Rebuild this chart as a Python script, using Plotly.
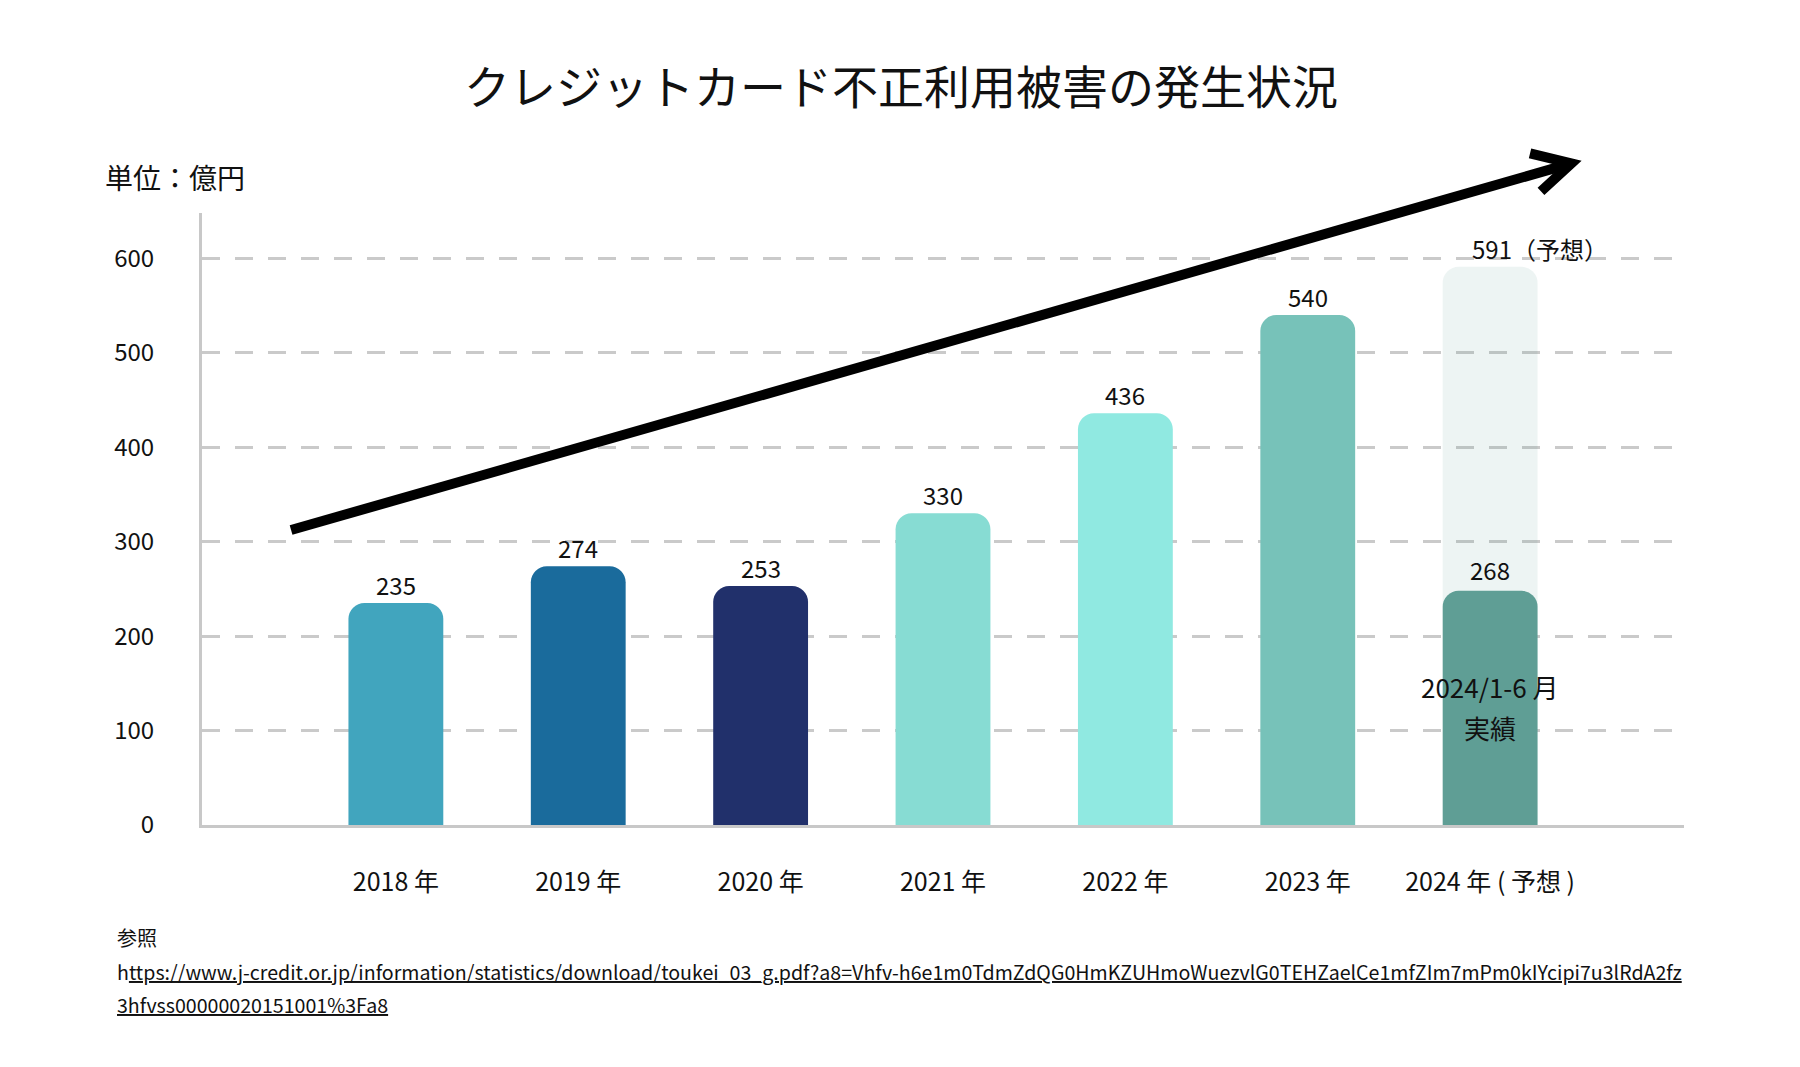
import plotly.graph_objects as go

# ---- data ----
years = ["2018 年", "2019 年", "2020 年", "2021 年", "2022 年", "2023 年", "2024 年 ( 予想 )"]
annual_values = [235, 274, 253, 330, 436, 540]          # 2018-2023 actual
forecast_2024 = 591                                      # 2024 forecast
h1_2024_label = 268                                      # 2024 Jan-Jun label
h1_2024_bar = 248                                        # 2024 Jan-Jun bar height as drawn
bar_colors = ["#41a5be", "#1a6b9c", "#21306b", "#87dcd3", "#90e9e1", "#77c2b9"]
color_2024 = "#5f9e95"
y_ticks = [0, 100, 200, 300, 400, 500, 600]

FONT = "Noto Sans CJK JP"
x_pos = list(range(len(years)))
X_RANGE = [-1.063, 7.063]

fig = go.Figure()

# light forecast bar (2024)
fig.add_trace(go.Bar(
    x=[x_pos[6]], y=[forecast_2024], width=0.52,
    marker=dict(color="rgba(95,158,149,0.11)", line=dict(width=0), cornerradius=16),
    hoverinfo="skip", showlegend=False,
))
# actual bars 2018-2023
fig.add_trace(go.Bar(
    x=x_pos[:6], y=annual_values, width=0.52,
    marker=dict(color=bar_colors, line=dict(width=0), cornerradius=16),
    showlegend=False,
))
# 2024 H1 actual (on an overlaid x axis so its corners are rounded too)
fig.add_trace(go.Bar(
    x=[x_pos[6]], y=[h1_2024_bar], width=0.52, xaxis="x2",
    marker=dict(color=color_2024, line=dict(width=0), cornerradius=16),
    showlegend=False,
))

LBL = 24
annotations = []
for xi, v in zip(x_pos[:6], annual_values):
    annotations.append(dict(x=xi, y=v, xref="x", yref="y", text=str(v), showarrow=False,
                            yanchor="middle", yshift=19, font=dict(family=FONT, size=LBL, color="#111")))
annotations.append(dict(x=x_pos[6], y=forecast_2024, xref="x", yref="y",
                        text=f"{forecast_2024}（予想）", showarrow=False, xanchor="left",
                        xshift=-20, yanchor="middle", yshift=18,
                        font=dict(family=FONT, size=LBL, color="#111")))
annotations.append(dict(x=x_pos[6], y=h1_2024_bar, xref="x", yref="y", text=str(h1_2024_label),
                        showarrow=False, yanchor="middle", yshift=21,
                        font=dict(family=FONT, size=LBL, color="#111")))
annotations.append(dict(x=x_pos[6], y=147, xref="x", yref="y", text="2024/1-6 月",
                        showarrow=False, yanchor="middle",
                        font=dict(family=FONT, size=26, color="#111")))
annotations.append(dict(x=x_pos[6], y=103, xref="x", yref="y", text="実績",
                        showarrow=False, yanchor="middle",
                        font=dict(family=FONT, size=26, color="#111")))
# unit label
annotations.append(dict(x=-0.0668, y=1.0588, xref="paper", yref="paper", text="単位：億円",
                        showarrow=False, xanchor="left", yanchor="middle",
                        font=dict(family=FONT, size=28, color="#111")))
# footer
annotations.append(dict(x=-0.0587, y=-0.1846, xref="paper", yref="paper", text="参照",
                        showarrow=False, xanchor="left", yanchor="middle",
                        font=dict(family=FONT, size=20, color="#111")))
annotations.append(dict(x=-0.0587, y=-0.2386, xref="paper", yref="paper",
                        text="h<u>ttps://www.j-credit.or.jp/information/statistics/download/toukei_03_g.pdf?a8=Vhfv-h6e1m0TdmZdQG0HmKZUHmoWuezvlG0TEHZaelCe1mfZIm7mPm0kIYcipi7u3lRdA2fz</u>",
                        showarrow=False, xanchor="left", yanchor="middle",
                        font=dict(family=FONT, size=19.6, color="#111")))
annotations.append(dict(x=-0.0587, y=-0.2925, xref="paper", yref="paper",
                        text="<u>3hfvss00000020151001%3Fa8</u>",
                        showarrow=False, xanchor="left", yanchor="middle",
                        font=dict(family=FONT, size=19.6, color="#111")))

# trend arrow (decoration, paper coordinates)
shapes = [
    dict(type="line", xref="paper", yref="paper", x0=0.0601, y0=0.4820, x1=0.9240, y1=1.0810,
         line=dict(color="black", width=10)),
    dict(type="path", xref="paper", yref="paper",
         path="M 0.8961,1.0974 L 0.9240,1.0810 L 0.9035,1.0353",
         line=dict(color="black", width=10)),
]

fig.update_layout(
    width=1800, height=1067,
    margin=dict(l=194, r=124, t=205, b=250),
    paper_bgcolor="white", plot_bgcolor="white",
    barmode="overlay", barcornerradius=16,
    title=dict(text="クレジットカード不正利用被害の発生状況", x=(901 - 8) / 1800, xanchor="center",
               y=1 - 80 / 1067, yanchor="middle",
               font=dict(family=FONT, size=46, color="#111")),
    font=dict(family=FONT, color="#111"),
    annotations=annotations,
    shapes=shapes,
    xaxis=dict(
        range=X_RANGE, tickvals=x_pos, ticktext=years,
        showline=True, linecolor="#c8c8c8", linewidth=3,
        showgrid=False, zeroline=False, ticks="",
        ticklabelstandoff=33,
        tickfont=dict(family=FONT, size=25, color="#111"),
    ),
    xaxis2=dict(
        range=X_RANGE, overlaying="x", visible=False, showgrid=False, zeroline=False,
    ),
    yaxis=dict(
        range=[0, 648], tickvals=y_ticks,
        showline=True, linecolor="#c8c8c8", linewidth=3,
        showgrid=True, gridcolor="#cacaca", gridwidth=2.5, griddash="18px,15px",
        zeroline=False, ticks="",
        ticklabelstandoff=40,
        tickfont=dict(family=FONT, size=24, color="#111"),
    ),
)

fig.write_html("out.html")
